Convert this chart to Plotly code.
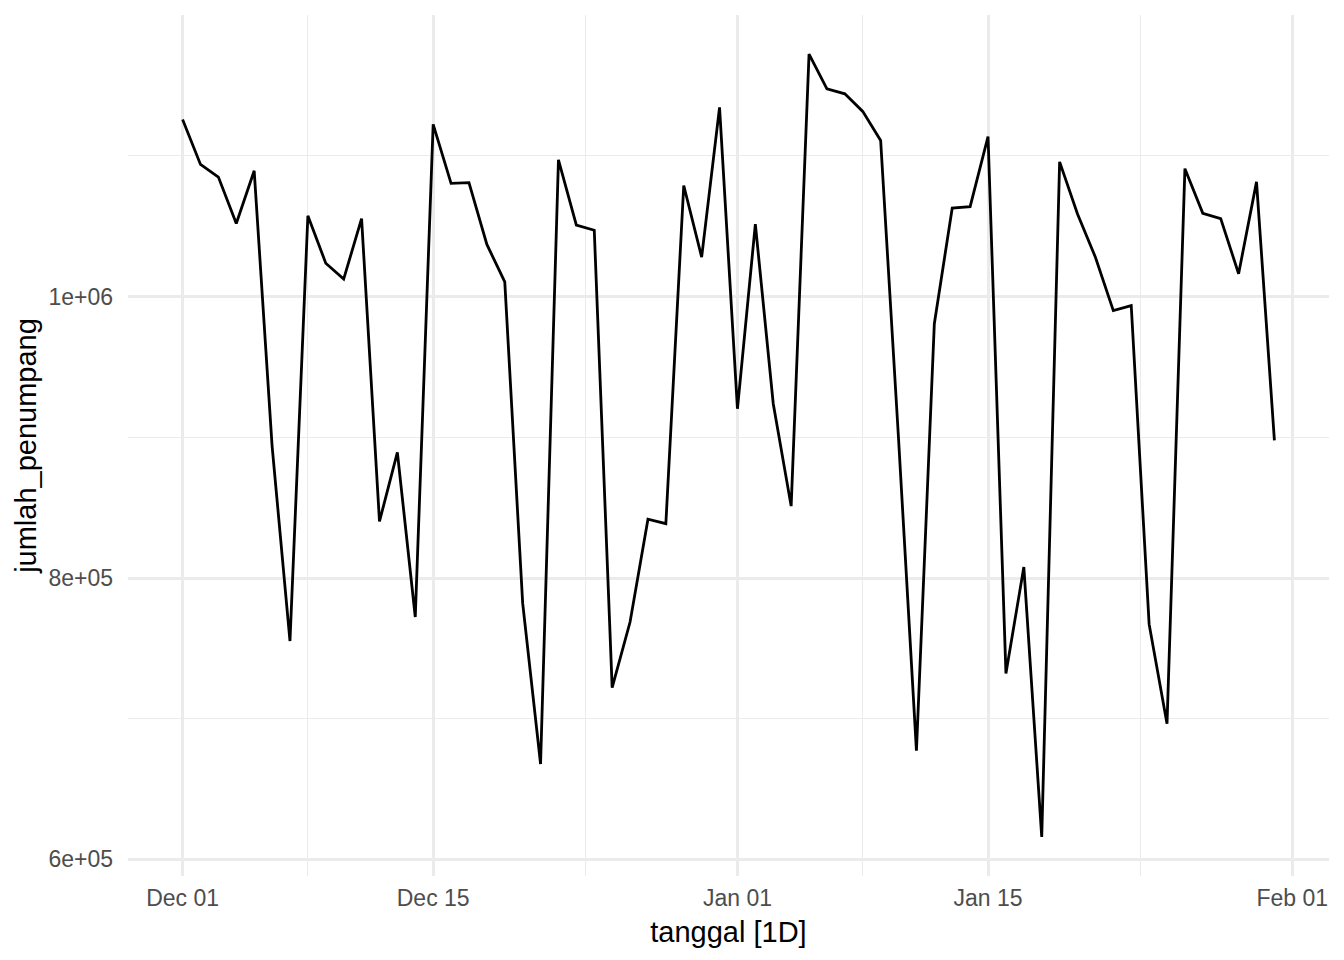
import pandas as pd
import plotly.graph_objects as go

# --- DATA ---
tanggal = pd.date_range("2023-12-01", "2024-01-31", freq="D")

jumlah_penumpang = [
    1126000, 1094000, 1085000, 1052000, 1089500, 894000, 755200,
    1057500, 1023800, 1012500, 1055500, 840200, 889300, 772300,
    1122500, 1080500, 1081000, 1037100, 1010500, 782100, 667800,
    1097300, 1050900, 1047200, 722100, 768700, 841800, 838600,
    1079000, 1028100, 1134500, 920300, 1051600, 923900, 851100,
    1172400, 1147700, 1144200, 1131700, 1111000, 899000, 677300,
    980800, 1063000, 1064000, 1113800, 732200, 807800, 616000,
    1095800, 1058800, 1028000, 990100, 993700, 767200, 696400,
    1091000, 1059200, 1055500, 1016300, 1081600, 897900,
]

x_major = ["2023-12-01", "2023-12-15", "2024-01-01", "2024-01-15", "2024-02-01"]
x_minor = ["2023-12-08", "2023-12-23 12:00", "2024-01-08", "2024-01-23 12:00"]
y_major = [600000, 800000, 1000000]
y_major_text = ["6e+05", "8e+05", "1e+06"]
y_minor = [700000, 900000, 1100000]

GRID = "#EBEBEB"
FONT = "Liberation Sans, Arial, Helvetica, sans-serif"

# ggplot-style 5% expansion of both scales
x_pad = (tanggal[-1] - tanggal[0]) * 0.05
y_lo, y_hi = min(jumlah_penumpang), max(jumlah_penumpang)
y_pad = (y_hi - y_lo) * 0.05

fig = go.Figure()
fig.add_trace(go.Scatter(
    x=tanggal, y=jumlah_penumpang, mode="lines",
    line=dict(color="black", width=2.8), showlegend=False,
))

fig.update_layout(
    width=1344, height=960,
    margin=dict(l=128, r=15, t=15, b=84),
    paper_bgcolor="white", plot_bgcolor="white",
    font=dict(family=FONT, color="#4D4D4D", size=23),
)

fig.update_xaxes(
    range=[tanggal[0] - x_pad, tanggal[-1] + x_pad],
    tickvals=x_major, tickformat="%b %d",
    showgrid=True, gridcolor=GRID, gridwidth=2.5,
    minor=dict(tickmode="array", tickvals=x_minor, showgrid=True, gridcolor=GRID, gridwidth=1.3),
    zeroline=False, showline=False, ticks="",
    ticklabelstandoff=6,
    tickfont=dict(size=23, color="#4D4D4D"),
    title=dict(text="tanggal [1D]", font=dict(size=29, color="black"), standoff=11),
)

fig.update_yaxes(
    range=[y_lo - y_pad, y_hi + y_pad],
    tickvals=y_major, ticktext=y_major_text,
    showgrid=True, gridcolor=GRID, gridwidth=2.5,
    minor=dict(tickmode="array", tickvals=y_minor, showgrid=True, gridcolor=GRID, gridwidth=1.3),
    zeroline=False, showline=False, ticks="",
    ticklabelstandoff=14,
    tickfont=dict(size=23, color="#4D4D4D"),
    title=dict(text="jumlah_penumpang", font=dict(size=29, color="black"), standoff=3),
)

# drop the browser's default body margin so the figure sits at (0, 0)
fig.write_html("out.html", config={"displayModeBar": False},
               post_script="document.body.style.margin='0';")
